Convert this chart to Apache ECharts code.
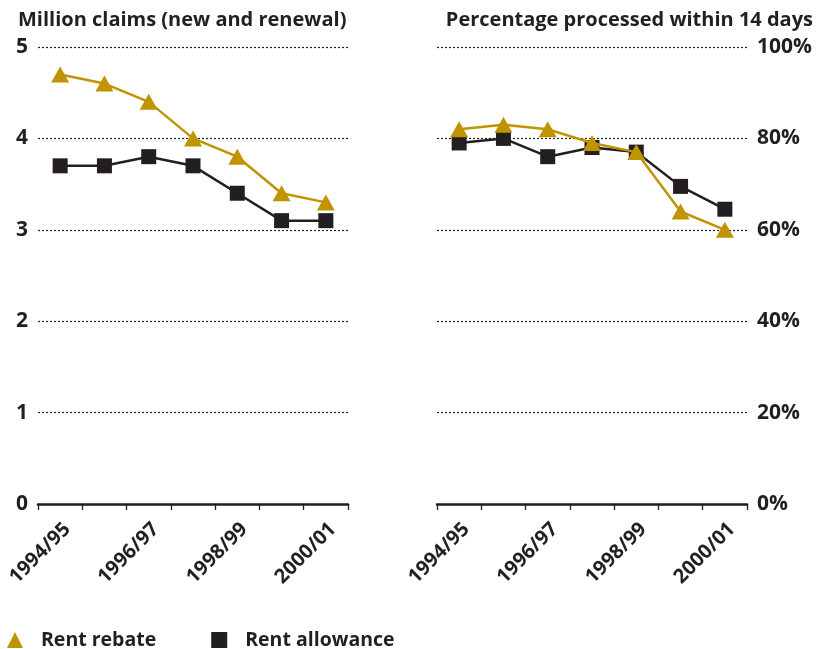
<!DOCTYPE html>
<html>
<head>
<meta charset="utf-8">
<script src="https://cdn.jsdelivr.net/npm/echarts@6/dist/echarts.min.js"></script>
<style>
  html, body { margin: 0; padding: 0; background: #fff; }
  #chart { width: 828px; height: 649px; }
</style>
</head>
<body>
<div id="chart"></div>
<script>
// Financial years shown on both panels
const years = ['1994/95', '1995/96', '1996/97', '1997/98', '1998/99', '1999/00', '2000/01'];

// Million claims (new and renewal)
const claimsRebate = [4.7, 4.6, 4.4, 4.0, 3.8, 3.4, 3.3];
const claimsAllowance = [3.7, 3.7, 3.8, 3.7, 3.4, 3.1, 3.1];

// Percentage processed within 14 days
const pctRebate = [82, 83, 82, 79, 77, 64, 60];
const pctAllowance = [79, 80, 76, 78, 77, 69.5, 64.5];

const claimsTicks = [0, 1, 2, 3, 4, 5];
const pctTicks = [0, 20, 40, 60, 80, 100];

const INK = '#231f20';
const GOLD = '#c09400';
const FONT = '"Open Sans", "DejaVu Sans", sans-serif';

const chart = echarts.init(document.getElementById('chart'), null, { renderer: 'canvas' });

function xAxis(gridIndex) {
  return {
    type: 'category',
    gridIndex: gridIndex,
    data: years,
    boundaryGap: true,
    axisLine: { show: true, lineStyle: { color: INK, width: 2.5 } },
    axisTick: { show: true, interval: 0, length: 6, lineStyle: { color: INK, width: 1.3 } },
    axisLabel: {
      interval: 1,
      rotate: 45,
      margin: 15,
      verticalAlign: 'top',
      color: INK,
      fontFamily: FONT,
      fontWeight: 'bold',
      fontSize: 20
    },
    splitLine: { show: false }
  };
}

function yAxis(gridIndex, ticks, position, fmt) {
  return {
    type: 'value',
    gridIndex: gridIndex,
    position: position,
    min: ticks[0],
    max: ticks[ticks.length - 1],
    interval: ticks[1] - ticks[0],
    axisLine: { show: false },
    axisTick: { show: false },
    axisLabel: {
      margin: 10,
      color: INK,
      fontFamily: FONT,
      fontWeight: 'bold',
      fontSize: 21,
      formatter: fmt
    },
    splitLine: {
      show: true,
      lineStyle: { color: INK, width: 1.2, type: [2, 2] }
    }
  };
}

function series(name, data, gridIndex, isRebate) {
  return {
    name: name,
    type: 'line',
    xAxisIndex: gridIndex,
    yAxisIndex: gridIndex,
    data: data,
    symbol: isRebate ? 'triangle' : 'rect',
    symbolSize: isRebate ? [18, 16] : 15,
    z: isRebate ? 4 : 3,
    lineStyle: { color: isRebate ? GOLD : INK, width: 2.5 },
    itemStyle: { color: isRebate ? GOLD : INK, opacity: 1 },
    emphasis: { disabled: true },
    animation: false
  };
}

chart.setOption({
  backgroundColor: '#ffffff',
  animation: false,
  textStyle: { fontFamily: FONT },
  title: [
    {
      text: 'Million claims (new and renewal)',
      left: 13, top: 5,
      textStyle: { color: INK, fontFamily: FONT, fontWeight: 'bold', fontSize: 20 }
    },
    {
      text: 'Percentage processed within 14 days',
      right: 10, top: 5,
      textStyle: { color: INK, fontFamily: FONT, fontWeight: 'bold', fontSize: 20 }
    }
  ],
  legend: {
    data: [
      { name: 'Rent rebate', icon: 'triangle' },
      { name: 'Rent allowance', icon: 'rect' }
    ],
    left: 2,
    top: 625,
    itemWidth: 16,
    itemHeight: 16,
    itemGap: 55,
    selectedMode: false,
    textStyle: { color: INK, fontFamily: FONT, fontWeight: 'bold', fontSize: 19.5, padding: [0, 0, 0, 13] }
  },
  grid: [
    { left: 38, top: 47, width: 310, height: 457 },
    { left: 437, top: 47, width: 310, height: 457 }
  ],
  xAxis: [xAxis(0), xAxis(1)],
  yAxis: [
    yAxis(0, claimsTicks, 'left', v => String(v)),
    yAxis(1, pctTicks, 'right', v => v + '%')
  ],
  series: [
    series('Rent allowance', claimsAllowance, 0, false),
    series('Rent rebate', claimsRebate, 0, true),
    series('Rent allowance', pctAllowance, 1, false),
    series('Rent rebate', pctRebate, 1, true)
  ]
});
</script>
</body>
</html>
